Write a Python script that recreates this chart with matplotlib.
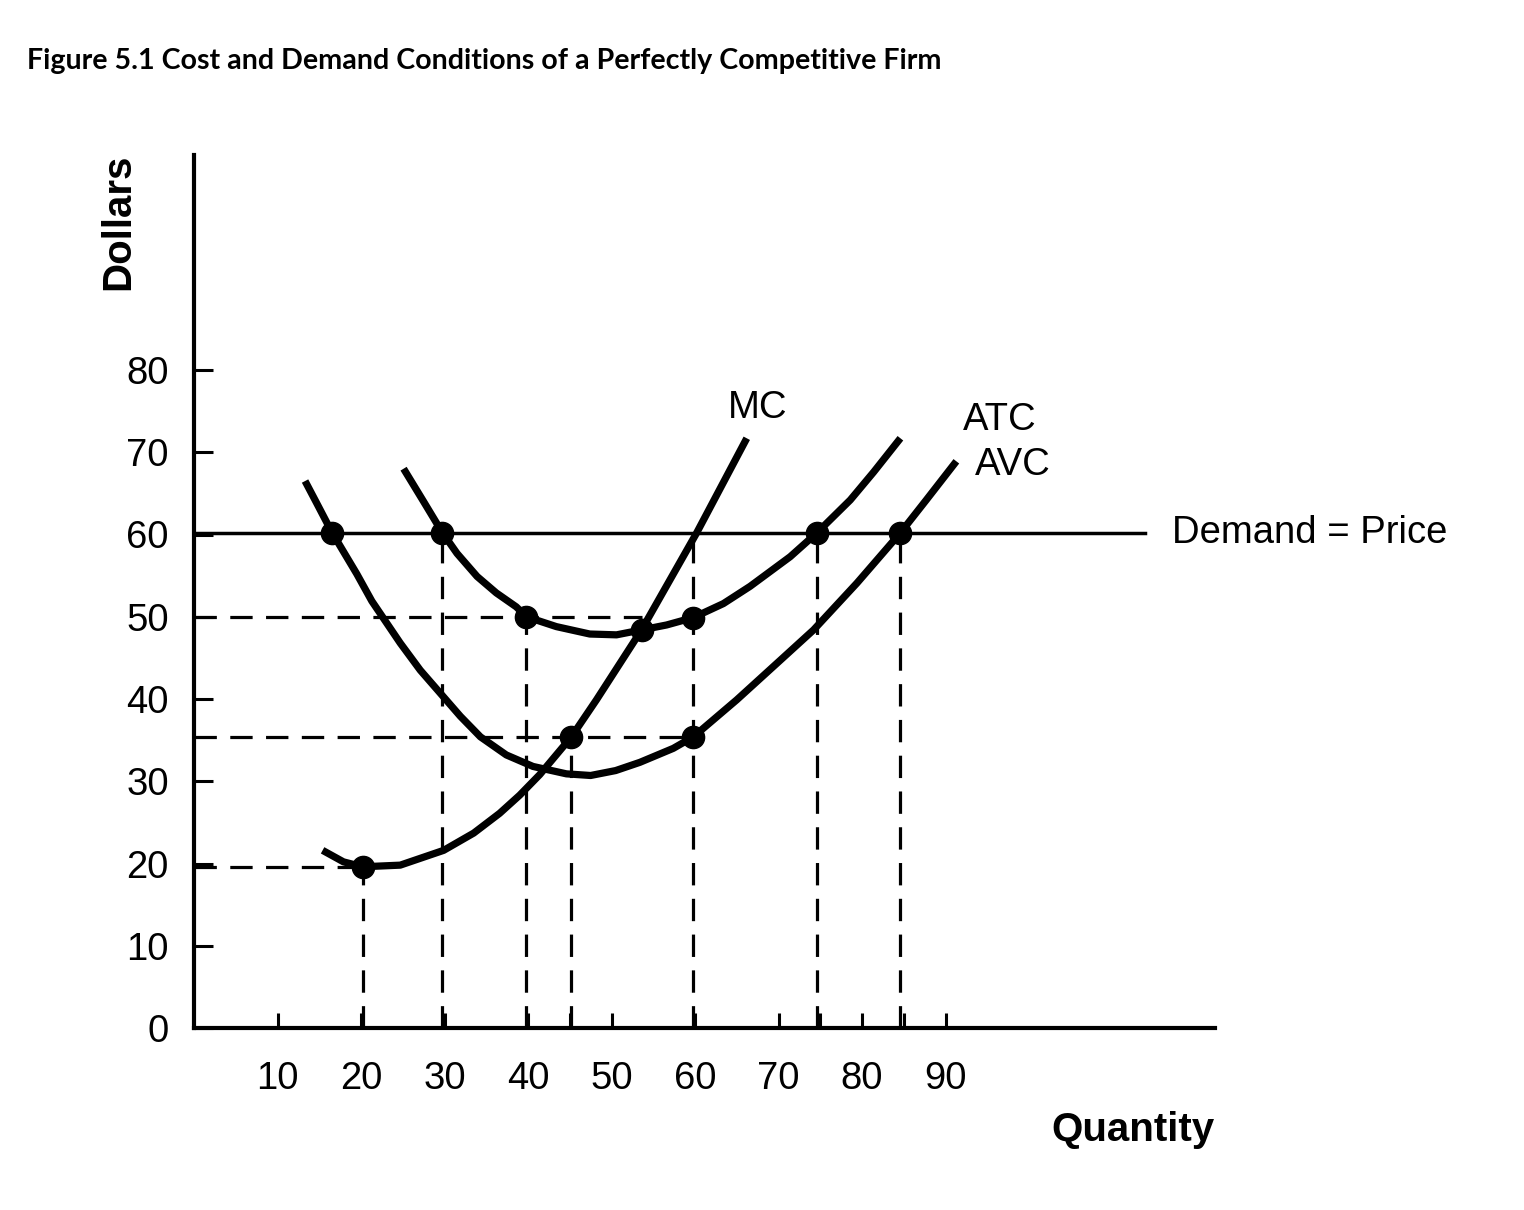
import matplotlib
matplotlib.use("Agg")
import matplotlib.pyplot as plt

# ---- data ----
mc_x = [15.4, 17.9, 20.2, 24.7, 29.9, 33.5, 36.6, 39.0, 41.4, 45.2, 48.2, 53.6, 60.2, 66.2]
mc_y = [21.6, 20.2, 19.6, 19.8, 21.6, 23.7, 26.1, 28.3, 30.8, 35.4, 39.9, 48.4, 60.2, 71.7]

atc_x = [25.1, 27.5, 29.7, 31.5, 33.9, 36.2, 38.6, 39.8, 43.4, 47.4, 50.6, 53.6, 56.6,
         59.8, 63.4, 66.6, 68.2, 71.4, 74.6, 78.6, 81.4, 84.6]
atc_y = [68.0, 64.0, 60.3, 57.7, 54.9, 52.9, 51.2, 50.0, 48.8, 47.9, 47.8, 48.4, 49.0,
         49.9, 51.6, 53.7, 54.9, 57.3, 60.2, 64.2, 67.6, 71.7]

avc_x = [13.3, 14.7, 16.5, 19.5, 21.3, 24.7, 27.1, 29.5, 31.9, 34.3, 37.4, 40.6, 44.6,
         47.5, 50.5, 53.4, 57.4, 59.8, 65.0, 70.2, 74.2, 79.4, 84.6, 87.7, 91.3]
avc_y = [66.5, 63.8, 60.3, 55.2, 51.9, 46.8, 43.5, 40.7, 37.9, 35.4, 33.2, 31.8, 30.9,
         30.7, 31.3, 32.3, 34.0, 35.4, 39.9, 44.7, 48.4, 54.1, 60.2, 64.2, 68.9]

price = 60.2
demand_end = 113.9

dot_x = [16.5, 29.7, 39.8, 53.6, 59.8, 45.2, 59.8, 20.2, 74.6, 84.6]
dot_y = [60.2, 60.2, 50.0, 48.4, 49.9, 35.4, 35.4, 19.6, 60.2, 60.2]

# horizontal dashed guides: level and where they end
hguide_y = [50.0, 35.4, 19.6]
hguide_xend = [53.6, 59.8, 20.2]
# vertical dashed guides: position and top
vguide_x = [20.2, 29.7, 39.8, 45.2, 59.8, 74.6, 84.6]
vguide_ytop = [19.6, 60.2, 50.0, 35.4, 60.2, 60.2, 60.2]

xtick_major = [10, 20, 30, 40, 50, 60, 70, 80, 90]
xtick_minor = [45, 75, 85]
ytick_vals = [0, 10, 20, 30, 40, 50, 60, 70, 80]

title = "Figure 5.1 Cost and Demand Conditions of a Perfectly Competitive Firm"

# ---- figure ----
fig = plt.figure(figsize=(15.24, 12.10), dpi=100)
ax = fig.add_axes([194/1524, 1 - 1028/1210, (1215-194)/1524, (1028-155)/1210])
ax.set_xlim(0, (1215-194)/8.35)
ax.set_ylim(0, (1028-155)/8.225)

lab_font = dict(family="Liberation Sans", size=27.5)

dash = (0, (7, 4.2))
for yv, xe in zip(hguide_y, hguide_xend):
    ax.plot([0, xe], [yv, yv], color="black", lw=2.3, linestyle=dash, zorder=2)
for xv, yt in zip(vguide_x, vguide_ytop):
    ax.plot([xv, xv], [0, yt], color="black", lw=2.3, linestyle=dash, zorder=2)

ax.plot([0, demand_end], [price, price], color="black", lw=2.5, zorder=3)

for xs, ys in [(mc_x, mc_y), (atc_x, atc_y), (avc_x, avc_y)]:
    ax.plot(xs, ys, color="black", lw=5.2, solid_capstyle="butt",
            solid_joinstyle="round", zorder=4)

ax.plot(dot_x, dot_y, "o", color="black", markersize=16, zorder=5)

ax.text(67.5, 75.4, "MC", ha="center", va="center", **lab_font)
ax.text(96.5, 73.9, "ATC", ha="center", va="center", **lab_font)
ax.text(98.1, 68.4, "AVC", ha="center", va="center", **lab_font)
ax.text(117.1, price, "Demand = Price", ha="left", va="center",
        clip_on=False, **lab_font)

for s in ["top", "right"]:
    ax.spines[s].set_visible(False)
for s in ["left", "bottom"]:
    ax.spines[s].set_linewidth(3)

ax.set_xticks(xtick_major)
ax.set_xticklabels([str(v) for v in xtick_major])
ax.set_xticks(xtick_minor, minor=True)
ax.set_yticks(ytick_vals)
ax.set_yticklabels([str(v) for v in ytick_vals])
ax.tick_params(axis="x", which="both", direction="in", length=11, width=2.2, pad=24)
ax.tick_params(axis="y", which="major", direction="in", length=14, width=2.2, pad=18)
for t in ax.get_xticklabels() + ax.get_yticklabels():
    t.set_fontfamily("Liberation Sans")
    t.set_fontsize(27.5)

fig.text(118/1524, 1 - 222/1210, "Dollars", rotation=90, ha="center", va="center",
         family="Liberation Sans", fontsize=29, fontweight="bold")
fig.text(1133/1524, 1 - 1130/1210, "Quantity", ha="center", va="center",
         family="Liberation Sans", fontsize=29, fontweight="bold")
fig.text(27/1524, 1 - 61/1210, title, ha="left", va="center",
         family="Lato", fontsize=20.6, fontweight="bold")

fig.savefig("out.png", dpi=100)
